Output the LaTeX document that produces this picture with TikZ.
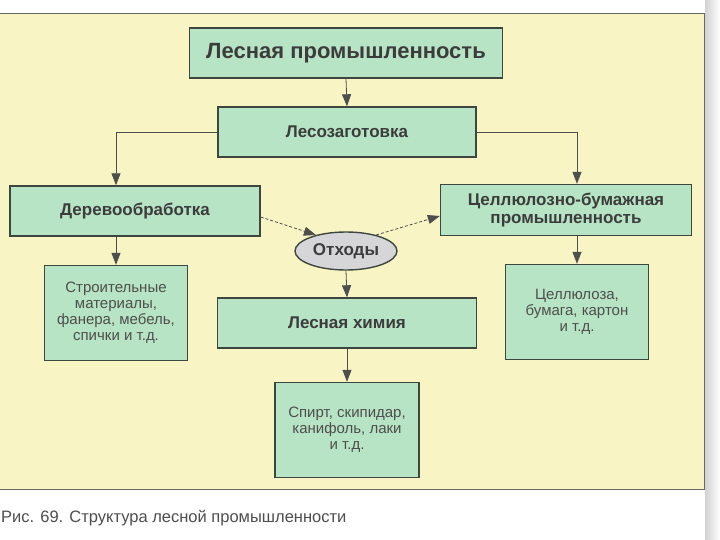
\documentclass[tikz,border=0pt]{standalone}
\usepackage{fontspec}
\setmainfont{Liberation Sans}
\usepackage{xcolor}
\usepackage{tikz}
\usetikzlibrary{shapes.geometric,arrows.meta}
\definecolor{paper}{HTML}{FFFFFF}
\definecolor{panel}{HTML}{F8F4C4}
\definecolor{boxfill}{HTML}{B6E4C4}
\definecolor{edge}{HTML}{3E473F}
\definecolor{ink}{HTML}{3C3C3C}
\definecolor{inkl}{HTML}{4E4E4E}
\definecolor{oval}{HTML}{D6D6D8}
\definecolor{strip}{HTML}{D2D2D2}
\tikzset{
  box/.style={draw=edge, fill=boxfill, line width=1.4pt, inner sep=0pt, align=center},
  headbox/.style={box, text=ink, font=\bfseries\fontsize{17}{18}\selectfont},
  listbox/.style={box, text=inkl, font=\fontsize{15}{16}\selectfont},
  waste/.style={ellipse, draw=edge, fill=oval, line width=1.4pt, inner sep=0pt,
    minimum width=102pt, minimum height=38pt, text=ink, font=\bfseries\fontsize{17}{18}\selectfont},
  arr/.style={draw=inkl, line width=0.8pt, -{Triangle[length=12pt,width=9pt]}},
  darr/.style={arr, dash pattern=on 3pt off 2pt}
}
\begin{document}
\begin{tikzpicture}[x=1pt,y=-1pt]
  \useasboundingbox (0,0) rectangle (720,540);
  % page and panel
  \fill[paper] (0,0) rectangle (720,540);
  \fill[panel] (0,13) rectangle (704,489);
  \shade[left color=strip, right color=paper] (705,0) rectangle (720,540);
  \draw[edge!80, line width=0.8pt] (0,13) -- (704,13) -- (704,489) -- (0,489);
  % boxes
  \node[headbox, minimum width=313pt, minimum height=50pt,
    font=\bfseries\fontsize{22}{24}\selectfont] (forest) at (346,53) {Лесная промышленность};
  \node[headbox, minimum width=258pt, minimum height=50pt] (zag) at (347,132) {Лесозаготовка};
  \node[headbox, minimum width=250pt, minimum height=50pt] (wood) at (135,211) {Деревообработка};
  \node[headbox, minimum width=251pt, minimum height=51pt] (cell) at (566,210)
    {Целлюлозно-бумажная\\промышленность};
  \node[waste] (otx) at (346,251) {Отходы};
  \node[headbox, minimum width=259pt, minimum height=50pt] (chem) at (347,323) {Лесная химия};
  \node[listbox, minimum width=143pt, minimum height=95pt] (strl) at (116,313)
    {Строительные\\материалы,\\фанера, мебель,\\спички и т.д.};
  \node[listbox, minimum width=143pt, minimum height=95pt] (pulp) at (577,312)
    {Целлюлоза,\\бумага, картон\\и т.д.};
  \node[listbox, minimum width=144pt, minimum height=95pt] (spirt) at (347,430)
    {Спирт, скипидар,\\канифоль, лаки\\и т.д.};
  % connectors
  \draw[arr] (forest.south) -- (zag.north);
  \draw[arr] (zag.west) -| (strl.north |- wood.north);
  \draw[arr] (zag.east) -| (pulp.north |- cell.north);
  \draw[arr] (strl.north |- wood.south) -- (strl.north);
  \draw[arr] (pulp.north |- cell.south) -- (pulp.north);
  \draw[darr] ([yshift=-6pt]wood.east) -- (otx.152);
  \draw[darr] (otx.28) -- ([yshift=-6pt]cell.west);
  \draw[arr] (otx.south) -- (chem.north);
  \draw[arr] (chem.south) -- (spirt.north);
  % caption
  \node[anchor=west, text=inkl, font=\fontsize{16.5}{18}\selectfont, inner sep=0pt] (cap) at (1,518)
    {Рис. 69. Структура лесной промышленности};
\end{tikzpicture}
\end{document}
